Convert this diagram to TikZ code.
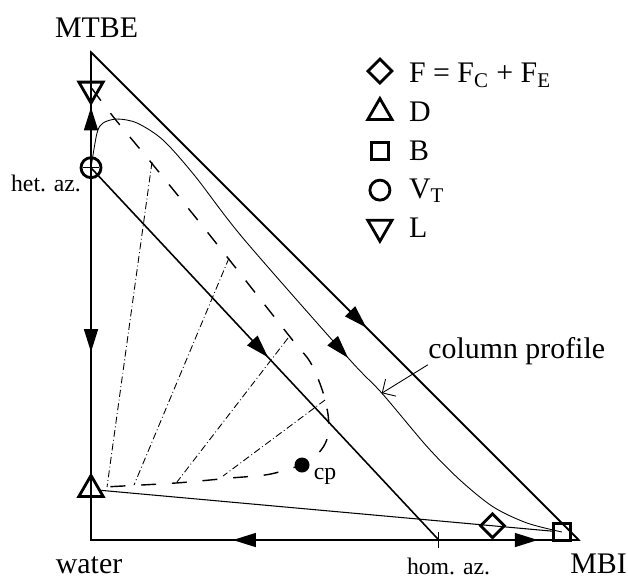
\documentclass[tikz,border=0pt]{standalone}
\usepackage{fontspec}
\setmainfont{Liberation Serif}
\usetikzlibrary{calc,arrows.meta,shapes.geometric,decorations.markings}

\begin{document}
\begin{tikzpicture}[scale=9.76,
  font=\fontsize{17}{20}\selectfont,
  small/.style={font=\fontsize{13.5}{16}\selectfont},
  edge/.style={line width=0.9pt},
  flow/.style={postaction={decorate}, decoration={markings,
      mark=at position #1 with {\arrow{Triangle[length=4.6mm,width=2.8mm]}}}},
  mk/.style={draw, line width=1.6pt, inner sep=0pt},
  fmark/.style={mk, diamond, minimum size=5mm},
  dmark/.style={mk, regular polygon, regular polygon sides=3, minimum size=5.6mm},
  lmark/.style={dmark, shape border rotate=180},
  bmark/.style={mk, minimum size=3.4mm},
  vmark/.style={mk, circle, minimum size=4mm},
  binodal/.style={line width=0.8pt, dash pattern=on 8.5pt off 9pt},
  tie/.style={line width=0.5pt, dash pattern=on 4pt off 1.6pt on 0.5pt off 1.6pt},
  profile/.style={line width=0.5pt}]
  \useasboundingbox (-0.1865,-0.0799) rectangle (1.1004,1.1066);

  % corners of the triangle
  \coordinate (W) at (0,0);
  \coordinate (M) at (1,0);
  \coordinate (T) at (0,1);
  \coordinate (homaz) at (0.713,0);

  % compositions
  \node[lmark] (L) at (0,0.924) {};
  \node[vmark] (VT) at (0,0.763) {};
  \node[dmark] (D) at (0,0.1037) {};
  \node[bmark] (B) at (0.965,0.0164) {};
  \node[fmark] (F) at ($(D)!0.853!(B)$) {};
  \node[circle, fill, inner sep=0pt, minimum size=3mm] (cp) at (0.4324,0.1537) {};

  \draw[edge] (W) -- (T) -- (M) -- cycle;
  \draw[edge, flow=0.523] (VT.center) -- (T);
  \draw[edge, flow=0.495] (VT.center) -- (W);
  \draw[edge, flow=0.592] (homaz) -- (W);
  \draw[edge, flow=0.707] (homaz) -- (M);
  \draw[edge, flow=0.5645] (T) -- (M);
  \draw[edge, flow=0.509] (VT.center) -- (homaz);
  \draw[line width=0.6pt] (D) -- (B);

  % azeotrope ticks
  \draw[line width=0.5pt] ($(homaz)+(0,-0.017)$) -- ($(homaz)+(0,0.017)$);
  \draw[line width=0.5pt] ($(VT)+(-0.017,0)$) -- ($(VT)+(0.017,0)$);

  % binodal and tie lines
  \draw[binodal] plot[smooth] coordinates {(0.002,0.925) (0.049,0.863)
    (0.131,0.764) (0.248,0.619) (0.408,0.416) (0.449,0.365) (0.474,0.307)
    (0.486,0.255) (0.486,0.215) (0.472,0.185) (0.440,0.158) (0.367,0.135)
    (0.285,0.127) (0.176,0.117) (0.033,0.109)};
  \draw[tie] (0.125,0.7746) -- (0.0328,0.1086);
  \draw[tie] (0.2828,0.5779) -- (0.0881,0.1127);
  \draw[tie] (0.4037,0.4139) -- (0.1762,0.1189);
  \draw[tie] (0.4795,0.2869) -- (0.2705,0.1311);

  % column profile
  \draw[profile, flow=0.586] plot[smooth] coordinates {(0,0.763)
    (0.0123,0.834) (0.0246,0.8545) (0.0533,0.8627) (0.0943,0.8545)
    (0.1475,0.8197) (0.213,0.746) (0.312,0.618) (0.527,0.373)
    (0.596,0.301) (0.689,0.191) (0.756,0.123) (0.824,0.068)
    (0.893,0.035) (0.965,0.0164)};
  \coordinate (prof) at (0.596,0.301);
  \node[anchor=base west, inner sep=0pt] (lab) at (0.6906,0.373) {column profile};
  \draw[line width=0.5pt, -{Straight Barb[length=2mm]}] (lab.south west) -- (prof);

  % labels
  \node (mtbe) at (0.0113,1.049) {MTBE};
  \node (water) at (-0.004,-0.051) {water};
  \node (mbi) at (1.04,-0.048) {MBI};
  \node[small] (hom) at (0.7326,-0.055) {hom. az.};
  \node[small] (het) at (-0.0922,0.7316) {het. az.};
  \node[small] (cplab) at (0.4795,0.131) {cp};

  % legend
  \node[fmark] (legF) at (0.592,0.961) {};
  \node[dmark] (legD) at (0.592,0.876) {};
  \node[bmark] (legB) at (0.592,0.797) {};
  \node[vmark] (legV) at (0.592,0.717) {};
  \node[lmark] (legL) at (0.592,0.641) {};
  \node[anchor=base west] (txtF) at (0.639,0.937) {F = F\textsubscript{C} + F\textsubscript{E}};
  \node[anchor=base west] (txtD) at (0.639,0.857) {D};
  \node[anchor=base west] (txtB) at (0.639,0.778) {B};
  \node[anchor=base west] (txtV) at (0.639,0.700) {V\textsubscript{T}};
  \node[anchor=base west] (txtL) at (0.639,0.620) {L};
\end{tikzpicture}
\end{document}
